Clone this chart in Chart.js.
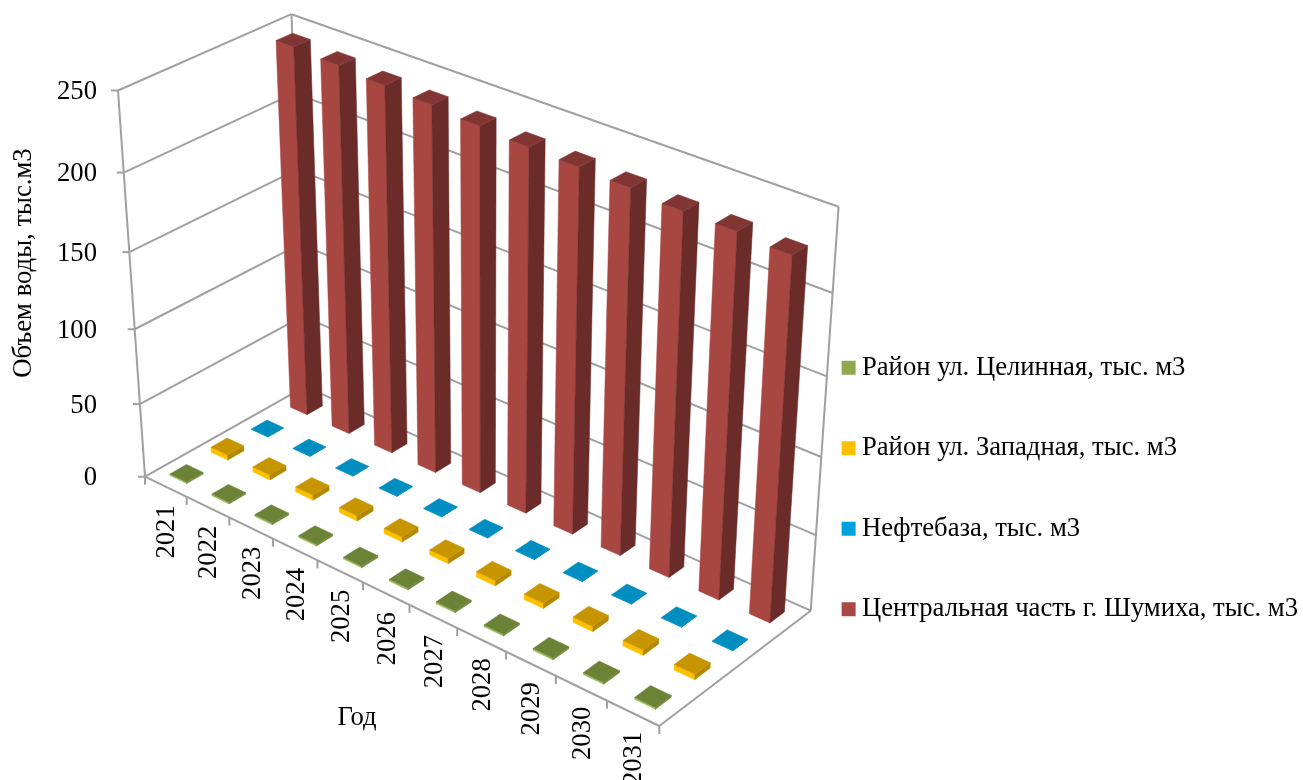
<!DOCTYPE html>
<html>
<head>
<meta charset="utf-8">
<script src="https://cdn.jsdelivr.net/npm/chart.js@4"></script>
<style>
    body { margin: 0; background: #fff; }
    canvas { display: block; }
</style>
</head>
<body>
<canvas id="waterChart" width="1303" height="780"></canvas>
<script>
// Chart data
const years = ['2021', '2022', '2023', '2024', '2025', '2026', '2027', '2028', '2029', '2030', '2031'];
const seriesNames = ['Район ул. Целинная, тыс. м3', 'Район ул. Западная, тыс. м3', 'Нефтебаза, тыс. м3', 'Центральная часть г. Шумиха, тыс. м3'];
const tselinnaya = [1.2, 1.2, 1.2, 1.2, 1.2, 1.2, 1.2, 1.2, 1.2, 1.2, 1.2];
const zapadnaya = [3.5, 3.5, 3.5, 3.5, 3.5, 3.5, 3.5, 3.5, 3.5, 3.5, 3.5];
const neftebaza = [0.3, 0.3, 0.3, 0.3, 0.3, 0.3, 0.3, 0.3, 0.3, 0.3, 0.3];
const tsentralnaya = [244.5, 243, 241, 239.6, 237.2, 235.2, 234.3, 233, 230.6, 230.3, 228.3];
const yTitle = 'Объем воды, тыс.м3';
const xTitle = 'Год';

// Face colours per series: front, side, top
const faceColors = [
    ['#9bbb59', '#6f8a3c', '#6b8237'],
    ['#ffc000', '#b38800', '#c79500'],
    ['#00a0dc', '#0077a3', '#008dc0'],
    ['#a84642', '#6b2b28', '#813634']
];
const legendColors = ['#8fa94f', '#ffc000', '#00a0dc', '#aa4643'];

const FONT = '"Liberation Serif", "Times New Roman", serif';
const FONT_SIZE = 26.67;
const LINE_COLOR = '#a0a0a0';
const BAR_DEPTH = 0.4; // share of a row taken by the bar

// Screen position of the plot box corners
const cornerO = [145, 476.7, 1];    // floor, front left
const cornerX = [659.3, 726, 1];    // floor, front right
const cornerZ = [305, 386.6, 1];    // floor, back left
const cornerXZ = [810.7, 610.7, 1]; // floor, back right
const cornerV = [118, 90.5, 1];     // top, front left
const cornerXVZ = [839, 204, 1];    // top, back right

// Perspective matrix from the unit cube to the screen, fixed by the corners above
function buildProjection() {
    const o = cornerO, a = cornerX, c = cornerZ, g = cornerXZ, b = cornerV, d = cornerXVZ;
    const det3 = (p, q, s) => p[0] * (q[1] * s[2] - q[2] * s[1]) - q[0] * (p[1] * s[2] - p[2] * s[1]) + s[0] * (p[1] * q[2] - p[2] * q[1]);
    const ng = g.map(n => -n);
    const det = det3(a, c, ng);
    const w1 = det3(o, c, ng) / det, w3 = det3(a, o, ng) / det, k = det3(a, c, o) / det;
    // vertical weight from the two top corners, least squares over x and y
    let num = 0, den = 0;
    [0, 1].forEach(i => {
        const coef = b[i] - d[i];
        num += coef * ((k - 1) * d[i] - k * g[i] + o[i]);
        den += coef * coef;
    });
    const w2 = num / den;
    const col = (p, w) => [0, 1, 2].map(i => p[i] * w - o[i]);
    return { A: col(a, w1), B: col(b, w2), C: col(c, w3), O: o };
}
const proj = buildProjection();

function project(x, v, z) {
    const h = [0, 1, 2].map(i => proj.A[i] * x + proj.B[i] * v + proj.C[i] * z + proj.O[i]);
    return [h[0] / h[2], h[1] / h[2]];
}

function segment(ctx, p, q) {
    ctx.beginPath();
    ctx.moveTo(p[0], p[1]);
    ctx.lineTo(q[0], q[1]);
    ctx.stroke();
}

function face(ctx, pts, color) {
    ctx.fillStyle = color;
    ctx.strokeStyle = color;
    ctx.lineWidth = 0.5;
    ctx.beginPath();
    pts.forEach((p, i) => i ? ctx.lineTo(p[0], p[1]) : ctx.moveTo(p[0], p[1]));
    ctx.closePath();
    ctx.fill();
    ctx.stroke();
}

function drawBox(ctx, x0, x1, v0, v1, z0, z1, colors) {
    face(ctx, [project(x0, v0, z0), project(x1, v0, z0), project(x1, v1, z0), project(x0, v1, z0)], colors[0]);
    face(ctx, [project(x1, v0, z0), project(x1, v0, z1), project(x1, v1, z1), project(x1, v1, z0)], colors[1]);
    face(ctx, [project(x0, v1, z0), project(x1, v1, z0), project(x1, v1, z1), project(x0, v1, z1)], colors[2]);
}

// Walls, floor, ticks and axis labels of the 3D box
function drawFrame(chart) {
    const ctx = chart.ctx;
    const xScale = chart.scales.x, yScale = chart.scales.y;
    const valueFrac = v => (yScale.bottom - yScale.getPixelForValue(v)) / yScale.height;
    const catFrac = i => (xScale.getPixelForValue(i) - xScale.left) / xScale.width;

    ctx.save();
    ctx.strokeStyle = LINE_COLOR;
    ctx.lineWidth = 2;
    yScale.ticks.forEach(t => {
        const f = valueFrac(t.value);
        segment(ctx, project(0, f, 0), project(0, f, 1));
        segment(ctx, project(0, f, 1), project(1, f, 1));
        const p = project(0, f, 0);
        segment(ctx, p, [p[0] - 7, p[1]]);
    });
    segment(ctx, project(0, 0, 0), project(0, 1, 0));
    segment(ctx, project(0, 0, 1), project(0, 1, 1));
    segment(ctx, project(1, 0, 1), project(1, 1, 1));
    segment(ctx, project(0, 0, 0), project(1, 0, 0));
    segment(ctx, project(1, 0, 0), project(1, 0, 1));

    for (let i = 0; i <= years.length; i++) {
        const p = project(i / years.length, 0, 0);
        segment(ctx, p, [p[0], p[1] + 8]);
    }

    ctx.fillStyle = '#000';
    ctx.font = FONT_SIZE + 'px ' + FONT;
    ctx.textAlign = 'right';
    ctx.textBaseline = 'middle';
    yScale.ticks.forEach(t => {
        const p = project(0, valueFrac(t.value), 0);
        ctx.fillText(String(t.value), 97, p[1] + 1.5);
    });
    years.forEach((year, i) => {
        const p = project(catFrac(i), 0, 0);
        ctx.save();
        ctx.translate(p[0] + 1.5, p[1] + 18.5);
        ctx.rotate(-Math.PI / 2);
        ctx.fillText(year, 0, 0);
        ctx.restore();
    });

    ctx.textAlign = 'center';
    ctx.fillText(xTitle, 357, 718);
    ctx.translate(24, 263);
    ctx.rotate(-Math.PI / 2);
    ctx.fillText(yTitle, 0, 0);
    ctx.restore();
}

// Bars are laid out by the bar controller, then pushed through the projection
function drawBars(chart) {
    const ctx = chart.ctx;
    const area = chart.chartArea;
    const depth = chart.scales.depth;
    const halfDepth = BAR_DEPTH / seriesNames.length / 2;

    for (let s = seriesNames.length - 1; s >= 0; s--) {
        const z = (depth.getPixelForValue(s) - depth.left) / depth.width;
        chart.getDatasetMeta(s).data.forEach(bar => {
            const x = (bar.x - area.left) / area.width;
            const hw = bar.width / 2 / area.width;
            const top = (area.bottom - bar.y) / area.height;
            const base = (area.bottom - bar.base) / area.height;
            drawBox(ctx, x - hw, x + hw, base, top, z - halfDepth, z + halfDepth, faceColors[s]);
        });
    }
}

const box3d = {
    id: 'box3d',
    beforeDatasetsDraw(chart) {
        drawFrame(chart);
        drawBars(chart);
        return false;
    }
};

const seriesValues = [tselinnaya, zapadnaya, neftebaza, tsentralnaya];

new Chart(document.getElementById('waterChart'), {
    type: 'bar',
    data: {
        labels: years,
        datasets: seriesNames.map((name, i) => ({
            label: name,
            data: seriesValues[i],
            backgroundColor: legendColors[i],
            borderWidth: 0,
            grouped: false,
            categoryPercentage: 1,
            barPercentage: 0.4
        }))
    },
    options: {
        responsive: false,
        animation: false,
        layout: { padding: { top: 197, right: -5 } },
        scales: {
            x: { type: 'category', display: false },
            depth: { type: 'category', axis: 'x', position: 'bottom', labels: seriesNames, offset: true, display: false },
            y: { type: 'linear', min: 0, max: 250, ticks: { stepSize: 50 }, display: false }
        },
        plugins: {
            tooltip: { enabled: false },
            legend: {
                position: 'right',
                onClick: null,
                labels: {
                    usePointStyle: true,
                    pointStyle: 'rect',
                    boxWidth: 0.01,
                    boxHeight: 14,
                    padding: 53.9,
                    color: '#000',
                    font: { family: FONT, size: FONT_SIZE }
                }
            }
        }
    },
    plugins: [box3d]
});
</script>
</body>
</html>
